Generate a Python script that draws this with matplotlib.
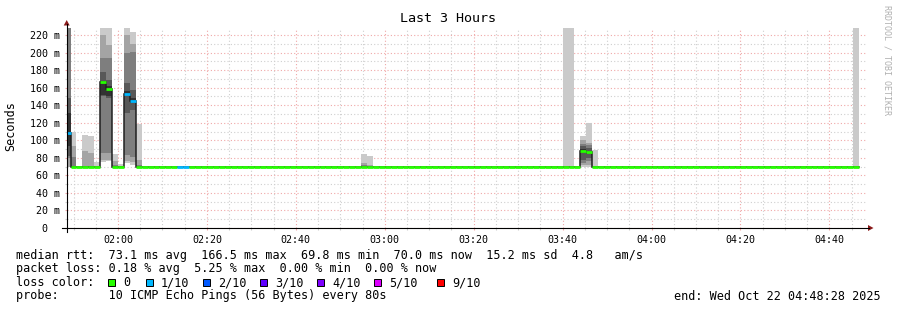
import numpy as np
import matplotlib
matplotlib.use("Agg")
import matplotlib.pyplot as plt
from matplotlib.patches import Rectangle, Polygon
from matplotlib.lines import Line2D

# ---------------- data ----------------
title = "Last 3 Hours"
y_label = "Seconds"
# time window, minutes after midnight
t_start = 108 + 28 / 60          # 01:48:28
t_end = 288 + 28 / 60            # 04:48:28
step_minutes = 80 / 60           # probe every 80 s
first_step = 108.0               # 01:48:00, start of the first (partly shown) step

# median rtt per 80 s step (ms)
median_ms = [
    108.0, 70.0, 70.0, 70.0, 70.0, 70.0, 166.5, 158.5, 70.0, 70.0, 153.0, 145.0, 70.0, 70.0, 70.0,
    70.0, 70.0, 70.0, 70.0, 70.0, 70.0, 70.0, 70.0, 70.0, 70.0, 70.0, 70.0, 70.0, 70.0, 70.0,
    70.0, 70.0, 70.0, 70.0, 70.0, 70.0, 70.0, 70.0, 70.0, 70.0, 70.0, 70.0, 70.0, 70.0, 70.0,
    70.0, 70.0, 70.0, 70.0, 70.0, 70.0, 70.0, 70.0, 70.0, 70.0, 70.0, 70.0, 70.0, 70.0, 70.0,
    70.0, 70.0, 70.0, 70.0, 70.0, 70.0, 70.0, 70.0, 70.0, 70.0, 70.0, 70.0, 70.0, 70.0, 70.0,
    70.0, 70.0, 70.0, 70.0, 70.0, 70.0, 70.0, 70.0, 70.0, 70.0, 70.0, 70.0, 88.0, 86.5, 70.0,
    70.0, 70.0, 70.0, 70.0, 70.0, 70.0, 70.0, 70.0, 70.0, 70.0, 70.0, 70.0, 70.0, 70.0, 70.0,
    70.0, 70.0, 70.0, 70.0, 70.0, 69.8, 70.0, 70.0, 70.0, 70.0, 70.0, 70.0, 70.0, 70.0, 70.0,
    70.0, 70.0, 70.0, 70.0, 70.0, 70.0, 70.0, 70.0, 70.0, 70.0, 70.0, 70.0, 70.0, 70.0, np.nan,
]
# lost pings (out of 10) per step
loss_count = [
    1, 0, 0, 0, 0, 0, 0, 0, 0, 0, 1, 1, 0, 0, 0,
    0, 0, 0, 0, 1, 1, 0, 0, 0, 0, 0, 0, 0, 0, 0,
    0, 0, 0, 0, 0, 0, 0, 0, 0, 0, 0, 0, 0, 0, 0,
    0, 0, 0, 0, 0, 0, 0, 0, 0, 0, 0, 0, 0, 0, 0,
    0, 0, 0, 0, 0, 0, 0, 0, 0, 0, 0, 0, 0, 0, 0,
    0, 0, 0, 0, 0, 0, 0, 0, 0, 0, 0, 0, 0, 0, 0,
    0, 0, 0, 0, 0, 0, 0, 0, 0, 0, 0, 0, 0, 0, 0,
    0, 0, 0, 0, 0, 0, 0, 0, 0, 0, 0, 0, 0, 0, 0,
    0, 0, 0, 0, 0, 0, 0, 0, 0, 0, 0, 0, 0, 0, 0,
]
# steps with visible smoke and their sorted ping times (ms)
smoke_steps = [0, 1, 3, 4, 5, 6, 7, 8, 9, 10, 11, 12, 50, 51, 84, 85, 87, 88, 89, 133]
smoke_pings = [
    [69, 70, 80, 82, 93, 131, 148, 240, 240, 240],
    [70, 70, 70, 70, 70, 70, 70, 81, 93, 109.5],
    [70, 70, 70, 70, 70, 70, 70, 70, 88, 106],
    [70, 70, 70, 70, 70, 70, 70, 70, 85, 105],
    [70, 70, 70, 70, 70, 70, 70, 70, 70, 75],
    [75, 77, 85, 150, 152, 168, 178, 194, 220, 240],
    [76, 78, 85, 148, 151, 162, 169, 194, 209, 240],
    [70, 70, 70, 70, 70, 70, 70, 72, 76, 84.5],
    [70, 70, 70, 70, 70, 70, 70, 70, 70, 73],
    [74, 76, 83, 131, 150, 156, 165, 199, 220, 240],
    [72, 75, 81, 135, 143, 148, 157, 201, 210, 223],
    [70, 70, 70, 70, 70, 70, 70, 72, 78, 119],
    [70, 70, 70, 70, 70, 70, 70, 72, 74, 84.4],
    [70, 70, 70, 70, 70, 70, 70, 70, 72, 82],
    [70, 70, 70, 70, 70, 70, 70, 70, 70, 240],
    [70, 70, 70, 70, 70, 70, 70, 70, 70, 240],
    [70, 72, 74, 78, 85, 90, 93, 96, 100, 105],
    [70, 72, 76, 80, 84, 88, 91, 95, 97, 120],
    [70, 70, 70, 70, 70, 70, 70, 70, 70, 89],
    [70, 70, 70, 70, 70, 70, 70, 70, 70, 240],
]
y_ticks = [0, 20, 40, 60, 80, 100, 120, 140, 160, 180, 200, 220]
y_tick_labels = ["0  ", "20 m", "40 m", "60 m", "80 m", "100 m", "120 m", "140 m",
                 "160 m", "180 m", "200 m", "220 m"]
x_ticks = [120, 140, 160, 180, 200, 220, 240, 260, 280]
x_tick_labels = ["02:00", "02:20", "02:40", "03:00", "03:20", "03:40", "04:00", "04:20", "04:40"]

loss_levels = ["0", "1/10", "2/10", "3/10", "4/10", "5/10", "9/10"]
loss_colors = ["#26ff00", "#00b8ff", "#0059ff", "#5e00ff", "#7e00ff", "#dd00ff", "#ff0000"]

stats_rtt = "median rtt:  73.1 ms avg  166.5 ms max  69.8 ms min  70.0 ms now  15.2 ms sd  4.8   am/s"
stats_loss = "packet loss: 0.18 % avg  5.25 % max  0.00 % min  0.00 % now"
probe_text = "probe:       10 ICMP Echo Pings (56 Bytes) every 80s"
end_text = "end: Wed Oct 22 04:48:28 2025"
credit = "RRDTOOL / TOBI OETIKER"

# ---------------- figure ----------------
W, H = 897, 310
fig = plt.figure(figsize=(W / 100, H / 100), dpi=100)
fig.patch.set_facecolor("white")
MONO = "DejaVu Sans Mono"


def fx(px):
    return px / W


def fy(py):
    return 1 - py / H


AX_L, AX_R, AX_T, AX_B = 66.7, 867.0, 28.0, 228.0
ax = fig.add_axes([fx(AX_L), fy(AX_B), (AX_R - AX_L) / W, (AX_B - AX_T) / H])
ax.set_facecolor("white")
ax.set_xlim(t_start, t_end)
ax.set_ylim(0, 228)
for s in ax.spines.values():
    s.set_visible(False)

# grid
grid_c = "#cfcfcf"
mgrid_c = "#f0a8a8"
dots = (0, (1, 2))
ax.set_yticks(y_ticks)
ax.set_yticks(np.arange(10, 228, 20), minor=True)
ax.set_xticks(x_ticks)
ax.set_xticks(np.arange(110, 289, 5), minor=True)
ax.set_yticklabels(y_tick_labels, fontfamily=MONO, fontsize=7.2)
ax.set_xticklabels(x_tick_labels, fontfamily=MONO, fontsize=7.2)
ax.grid(which="minor", color=grid_c, linestyle=dots, linewidth=0.8)
ax.grid(which="major", color=mgrid_c, linestyle=dots, linewidth=0.8)
ax.tick_params(which="both", length=1.5, width=0.8, direction="out", pad=3)
ax.tick_params(which="major", colors=mgrid_c, labelcolor="black")
ax.tick_params(which="minor", colors=grid_c)
ax.tick_params(axis="x", which="major", pad=3.5)
ax.set_axisbelow(True)

# smoke
greys = [202, 164, 126, 88, 50]
steps = np.array(smoke_steps)
pings = np.array(smoke_pings, dtype=float)
x_left = first_step + steps * step_minutes
for i, g in enumerate(greys):
    lo = pings[:, i]
    hi = pings[:, 9 - i]
    ax.bar(x_left, hi - lo, bottom=lo, width=step_minutes, align="edge",
           color=(g / 255, g / 255, g / 255), linewidth=0, zorder=2)

# median line
med = np.array(median_ms, dtype=float)
n = len(med)
edges = first_step + np.arange(n + 1) * step_minutes
ax.plot(edges, np.append(med, med[-1]), drawstyle="steps-post", color="#202020",
        linewidth=1.1, zorder=3, solid_joinstyle="miter")
seg_cols = [loss_colors[min(c, 6)] for c in loss_count]
ok = ~np.isnan(med)
ax.hlines(med[ok], edges[:-1][ok], edges[1:][ok], colors=np.array(seg_cols)[ok],
          linewidth=2.0, zorder=4, capstyle="butt")

# axis lines and arrows
fig.add_artist(Line2D([fx(AX_L), fx(AX_L)], [fy(232), fy(24)], color="black", lw=0.8))
fig.add_artist(Line2D([fx(62), fx(869)], [fy(AX_B), fy(AX_B)], color="black", lw=0.8))
arrow_c = "#8b1a1a"
fig.add_artist(Polygon([[fx(AX_L - 3), fy(25.5)], [fx(AX_L + 3), fy(25.5)], [fx(AX_L), fy(20)]],
                       closed=True, color=arrow_c, lw=0))
fig.add_artist(Polygon([[fx(868), fy(AX_B - 3)], [fx(868), fy(AX_B + 3)], [fx(873.5), fy(AX_B)]],
                       closed=True, color=arrow_c, lw=0))

# title, labels
fig.text(fx(448), fy(19), title, fontfamily=MONO, fontsize=9.6, ha="center", va="center")
fig.text(fx(11), fy(126), y_label, fontfamily=MONO, fontsize=8.5, rotation=90,
         ha="center", va="center")
fig.text(fx(887), fy(5), credit, fontfamily=MONO, fontsize=6, rotation=270,
         ha="center", va="top", color="#b0b0b0")

# legend area
fs = 8.5
fig.text(fx(16), fy(255), stats_rtt, fontfamily=MONO, fontsize=fs, va="center", ha="left")
fig.text(fx(16), fy(268.5), stats_loss, fontfamily=MONO, fontsize=fs, va="center", ha="left")
fig.text(fx(16), fy(282.5), "loss color:", fontfamily=MONO, fontsize=fs, va="center", ha="left")
box_x = [108, 146, 203, 260, 317, 374, 437]
for bx, lab, col in zip(box_x, loss_levels, loss_colors):
    fig.add_artist(Rectangle((fx(bx), fy(286)), 7 / W, 7 / H, facecolor=col,
                             edgecolor="black", linewidth=0.7))
    fig.text(fx(bx + 15), fy(282.5), lab, fontfamily=MONO, fontsize=fs, va="center", ha="left")
fig.text(fx(16), fy(296), probe_text, fontfamily=MONO, fontsize=fs, va="center", ha="left")
fig.text(fx(881), fy(296), end_text, fontfamily=MONO, fontsize=fs, va="center", ha="right")

fig.savefig("out.png", dpi=100, facecolor="white")
